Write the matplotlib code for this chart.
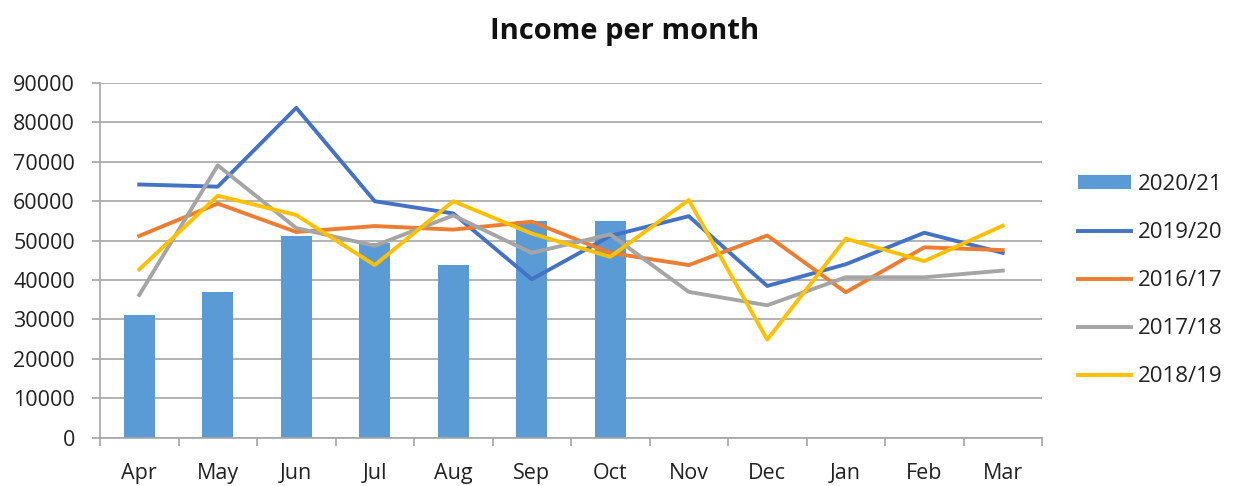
import matplotlib
matplotlib.use("Agg")
import matplotlib.pyplot as plt
import numpy as np

months = ["Apr", "May", "Jun", "Jul", "Aug", "Sep", "Oct", "Nov", "Dec", "Jan", "Feb", "Mar"]
income_2020_21 = [31100, 37000, 51300, 49400, 43800, 54900, 54900]
income_2019_20 = [64250, 63700, 83700, 60000, 56900, 40200, 51200, 56200, 38500, 44000, 52000, 46900]
income_2016_17 = [51200, 59400, 52200, 53700, 52800, 54800, 46900, 43800, 51300, 36900, 48300, 47600]
income_2017_18 = [36200, 69100, 53200, 48700, 56400, 46900, 51600, 37000, 33600, 40700, 40700, 42400]
income_2018_19 = [42700, 61400, 56500, 43800, 60000, 51800, 45900, 60300, 24900, 50500, 44800, 53800]

plt.rcParams['font.family'] = ['Open Sans', 'DejaVu Sans']

fig = plt.figure(figsize=(12.44, 4.86), dpi=100)
ax = fig.add_axes([100/1244, 1-437.7/486, 942/1244, (437.7-83)/486])

x = np.arange(len(months))
grid_c = '#A6A6A6'
txt_c = '#222222'
lw = 2.8
h0 = ax.bar(x[:len(income_2020_21)], income_2020_21, width=0.4, color='#5B9BD5', label='2020/21', zorder=2)
h1, = ax.plot(x, income_2019_20, color='#4472C4', lw=lw, label='2019/20', zorder=3)
h2, = ax.plot(x, income_2016_17, color='#ED7D31', lw=lw, label='2016/17', zorder=3)
h3, = ax.plot(x, income_2017_18, color='#A5A5A5', lw=lw, label='2017/18', zorder=3)
h4, = ax.plot(x, income_2018_19, color='#FFC000', lw=lw, label='2018/19', zorder=3)

ax.set_xlim(-0.5, len(months) - 0.5)
ax.set_ylim(0, 90000)
ax.set_yticks(np.arange(0, 90001, 10000))
ax.set_xticks(x)
ax.set_xticklabels(months)
ax.set_xticks(np.arange(-0.5, len(months), 1), minor=True)
ax.tick_params(axis='x', which='major', length=0, labelsize=15.5, pad=18, colors=txt_c)
ax.tick_params(axis='x', which='minor', length=6, color=grid_c, width=1.2)
ax.tick_params(axis='y', length=6, width=1.2, color=grid_c, labelsize=15.5, pad=12, labelcolor=txt_c)
ax.yaxis.grid(True, color=grid_c, lw=1.2, zorder=0)
ax.set_axisbelow(True)
for s in ['top', 'right']:
    ax.spines[s].set_visible(False)
ax.spines['left'].set_color(grid_c)
ax.spines['bottom'].set_color(grid_c)
ax.spines['left'].set_linewidth(1.2)
ax.spines['bottom'].set_linewidth(1.2)

fig.text(0.502, 1-38.5/486, "Income per month", ha='center', va='baseline', fontsize=21,
         fontweight='bold', color='#111111')

handles = [h0, h1, h2, h3, h4]
labels = [h.get_label() for h in handles]
leg = fig.legend(handles, labels, loc='upper left', bbox_to_anchor=(1078/1244, 1-174/486), frameon=False,
                 fontsize=16, handlelength=2.4, handleheight=0.6, handletextpad=0.3,
                 labelspacing=1.22, borderaxespad=0, borderpad=0)
for t in leg.get_texts():
    t.set_color(txt_c)

fig.savefig("out.png", dpi=100)
